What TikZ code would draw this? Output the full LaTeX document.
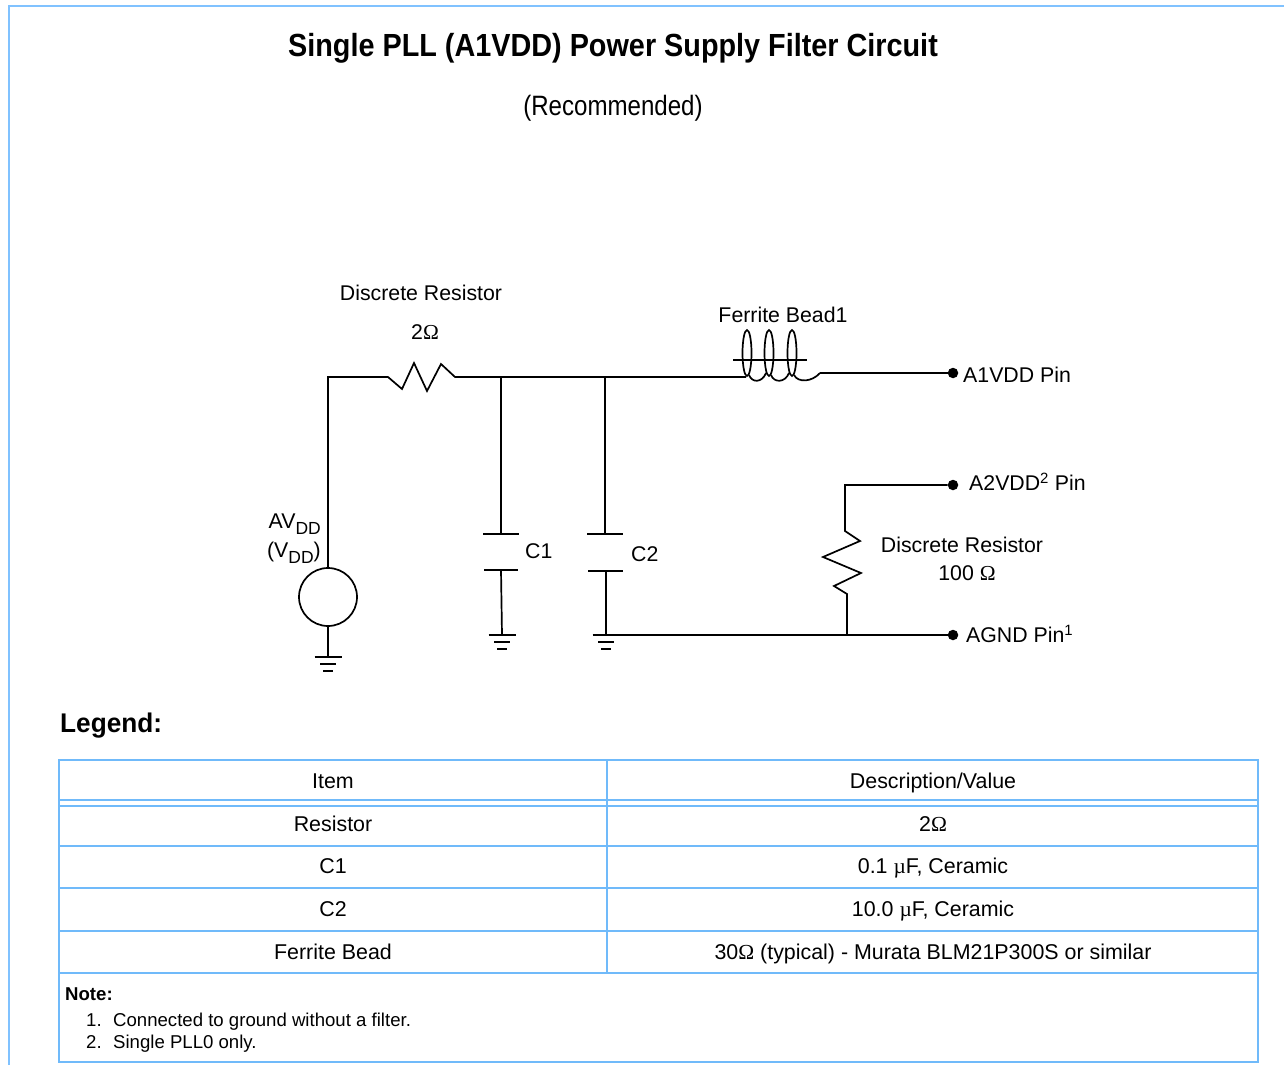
\documentclass[tikz,border=0pt]{standalone}
\usepackage{fontspec}
\setmainfont{Liberation Sans}
\newfontfamily\seriffont{Liberation Serif}
\usetikzlibrary{calc}
\definecolor{frameblue}{RGB}{128,194,255}
\definecolor{tableblue}{RGB}{112,186,250}
\begin{document}
\begin{tikzpicture}[x=1pt,y=-1pt,
  wire/.style={line width=1.7pt, black, line join=miter},
  frameline/.style={line width=2.4pt, frameblue},
  tline/.style={line width=1.8pt, tableblue},
  lbl/.style={inner sep=0pt, text height=15.25pt, text depth=0pt, font=\fontsize{21.3}{25}\selectfont},
  tlbl/.style={lbl, text height=15.3pt, font=\fontsize{21.4}{25}\selectfont},
  notelbl/.style={lbl, anchor=west, text height=13.3pt, font=\fontsize{18.6}{22}\selectfont},
  dotnode/.style={circle, fill=black, inner sep=0pt, minimum size=10.5pt},
  gnd/.pic={
    \draw[wire] (-13.5,0) -- (13.5,0);
    \draw[wire] (-8,7) -- (8,7);
    \draw[wire] (-5,14) -- (5,14);
  }
]
\useasboundingbox (0,0) rectangle (1284,1065);

% outer frame
\coordinate (fbl) at (9,1065);
\coordinate (ftl) at (9,6);
\coordinate (ftr) at (1284,6);
\draw[frameline] (fbl) -- (ftl) -- (ftr);

% titles
\node[lbl, text height=22.9pt] (title) at (613,45) {\scalebox{0.9}[1]{\fontsize{32}{36}\selectfont\bfseries Single PLL (A1VDD) Power Supply Filter Circuit}};
\node[lbl, text height=20pt] (sub) at (613,105) {\scalebox{0.86}[1]{\fontsize{28}{32}\selectfont (Recommended)}};

% ---------------- circuit ----------------
\node[draw, circle, line width=1.7pt, minimum size=58pt, inner sep=0pt] (src) at (328,597) {};
\coordinate (tl) at (328,377);
\coordinate (r1a) at (388,377);
\coordinate (r1b) at (455,377);
\coordinate (n1) at (501,377);
\coordinate (n2) at (605,377);
\coordinate (fbA) at (746,377);
\coordinate (fbB) at (820,373);
\coordinate (gs) at (328,657);
\coordinate (c1p) at (501,534);
\coordinate (c1q) at (501,570);
\coordinate (g1) at (502,635);
\coordinate (c2p) at (605,534);
\coordinate (c2q) at (606,571);
\coordinate (g2) at (606,635);
\coordinate (gwire) at (619,635);
\coordinate (jA) at (847,635);

\node[dotnode] (p1) at (953,373) {};
\node[dotnode] (p2) at (953,485) {};
\node[dotnode] (p3) at (953,635) {};

% main wire with 2 ohm resistor
\draw[wire] (src.north) -- (tl) -- (r1a) -- ++(14,12) -- ++(12,-26) -- ++(13,28) -- ++(14,-27) -- (r1b) -- (fbA);
% source ground
\draw[wire] (src.south) -- (gs);
\pic at (gs) {gnd};

% C1
\draw[wire] (n1) -- (c1p);
\draw[wire] ($(c1p)+(-18,0)$) -- ($(c1p)+(18,0)$);
\draw[wire] ($(c1q)+(-17,0)$) -- ($(c1q)+(17,0)$);
\draw[wire] (c1q) -- (g1);
\pic at (g1) {gnd};

% C2
\draw[wire] (n2) -- (c2p);
\draw[wire] ($(c2p)+(-18,0)$) -- ($(c2p)+(18,0)$);
\draw[wire] ($(c2q)+(-18,0)$) -- ($(c2q)+(17,0)$);
\draw[wire] (c2q) -- (g2);
\pic at (g2) {gnd};

% ferrite bead
\draw[wire] (747,353) ellipse [x radius=4.5, y radius=23];
\draw[wire] (769,353) ellipse [x radius=4.5, y radius=23];
\draw[wire] (792,353) ellipse [x radius=4.5, y radius=23];
\draw[wire] (749,375) .. controls (752,383) and (762,383) .. (766,373);
\draw[wire] (771,375) .. controls (774,383) and (785,383) .. (789,373);
\draw[wire] (794,375) .. controls (798,383) and (812,382) .. (fbB);
\draw[line width=1.4pt] (733,360) -- (807,360);
\draw[wire] (fbB) -- (p1);

% AGND wire and 100 ohm resistor
\draw[wire] (gwire) -- (p3);
\draw[wire] (p2) -- (845,485) -- (845,531) -- (860,541) -- (823,557) -- (861,573) -- (834,586) -- (847,594) -- (jA);

% circuit labels
\node[lbl] (rlbl) at (421,293) {Discrete Resistor};
\node[lbl] (rval) at (425,332) {2{\seriffont Ω}};
\node[lbl] (fblbl) at (783,315) {Ferrite Bead1};
\node[lbl, anchor=west] (p1lbl) at (963,375) {A1VDD Pin};
\node[lbl, anchor=west] (p2lbl) at (969,483) {A2VDD\textsuperscript{2} Pin};
\node[lbl, anchor=west] (p3lbl) at (966,635) {AGND Pin\textsuperscript{1}};
\node[lbl] (r2lbl) at (962,545) {Discrete Resistor};
\node[lbl] (r2val) at (967,573) {100 {\seriffont Ω}};
\node[lbl, anchor=east] (avdd) at (321,521) {AV\raisebox{-0.28em}{\fontsize{17.5}{20}\selectfont DD}};
\node[lbl, anchor=east] (vdd) at (321,550) {(V\raisebox{-0.28em}{\fontsize{17.5}{20}\selectfont DD})};
\node[lbl, anchor=west] (c1lbl) at (525,551) {C1};
\node[lbl, anchor=west] (c2lbl) at (631,554) {C2};

% ---------------- legend ----------------
\node[lbl, anchor=west, text height=19.3pt] (legend) at (60,723) {\scalebox{0.97}[1]{\fontsize{27}{30}\selectfont\bfseries Legend:}};

\coordinate (tA) at (59,760);
\coordinate (tB) at (1258,1062);
\draw[tline] (tA) rectangle (tB);
\foreach \yy in {800,806,846,888,931,973}{
  \draw[tline] (59,\yy) -- (1258,\yy);
}
\draw[tline] (607,760) -- (607,973);

\node[tlbl] (h1) at (333,781) {Item};
\node[tlbl] (h2) at (933,781) {Description/Value};
\node[tlbl] (a1) at (333,824) {Resistor};
\node[tlbl] (b1) at (933,824) {2{\seriffont Ω}};
\node[tlbl] (a2) at (333,866) {C1};
\node[tlbl] (b2) at (933,866) {0.1 {\seriffont µ}F, Ceramic};
\node[tlbl] (a3) at (333,909) {C2};
\node[tlbl] (b3) at (933,909) {10.0 {\seriffont µ}F, Ceramic};
\node[tlbl] (a4) at (333,952) {Ferrite Bead};
\node[tlbl] (b4) at (933,952) {30{\seriffont Ω} (typical) - Murata BLM21P300S or similar};

\node[notelbl, font=\fontsize{18.6}{22}\selectfont\bfseries] (note) at (65,994) {Note:};
\node[notelbl] (n1num) at (86,1020) {1.};
\node[notelbl] (n1txt) at (113,1020) {Connected to ground without a filter.};
\node[notelbl] (n2num) at (86,1042) {2.};
\node[notelbl] (n2txt) at (113,1042) {Single PLL0 only.};
\end{tikzpicture}
\end{document}
